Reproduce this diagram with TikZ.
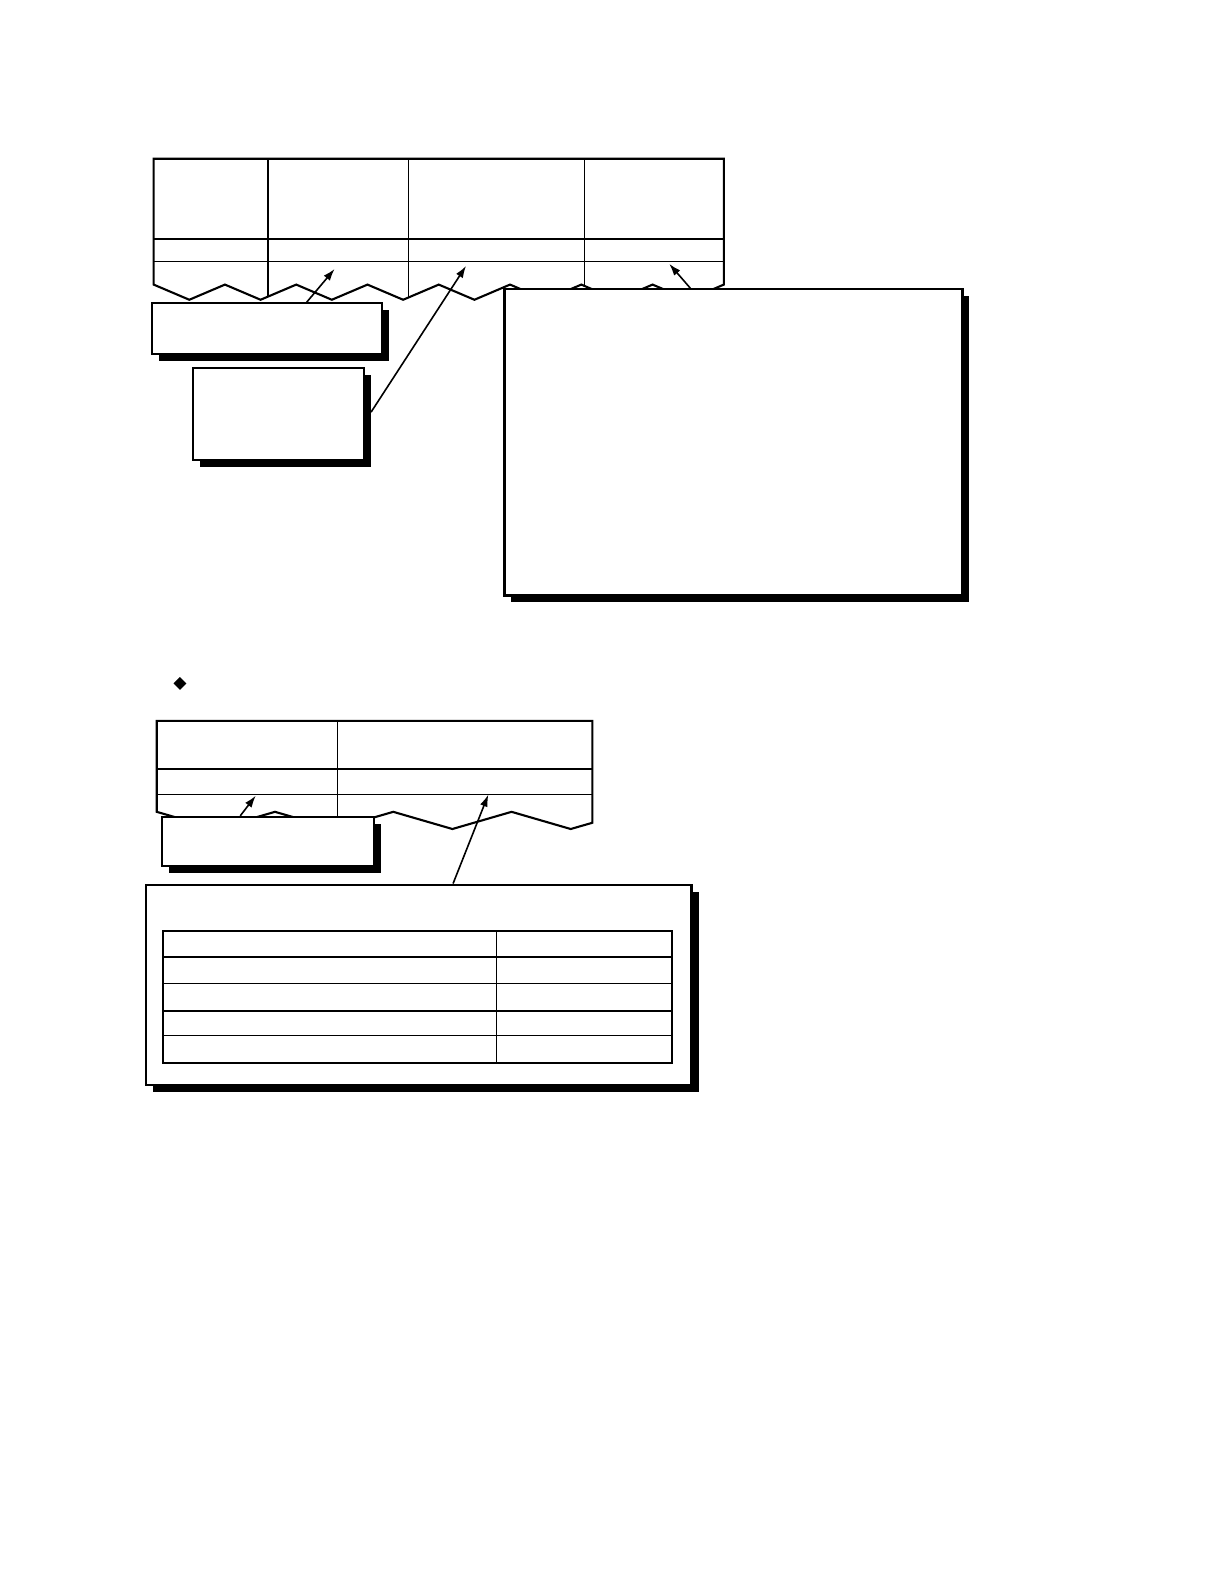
\documentclass[tikz,border=0pt]{standalone}
\usetikzlibrary{arrows.meta,shadows,shapes.geometric,fit,calc}
\begin{document}
\begin{tikzpicture}[x=1.011pt,y=-1.011pt,
  thickline/.style={line width=2.1pt},
  thinline/.style={line width=1.3pt},
  shbox/.style={draw, line width=2.1pt, fill=white, inner sep=0pt,
    general shadow={fill=black, shadow xshift=7pt, shadow yshift=-7pt}},
  arr/.style={line width=1.6pt, -{Latex[length=12pt,width=8pt]}},
  bullet/.style={diamond, fill=black, inner sep=0pt, minimum size=13pt}]
\fill[white] (0,0) rectangle (1210.7,1566.8);
\useasboundingbox (0,0) rectangle (1210.7,1566.8);

% ---------- top table ----------
\begin{scope}
  \clip (152,157) -- (716,157) -- (716,281.5) -- (680.75,296.5) -- (645.5,281.5)
    -- (610.25,296.5) -- (575,281.5) -- (539.75,296.5) -- (504.5,281.5)
    -- (469.25,296.5) -- (434,281.5) -- (398.75,296.5) -- (363.5,281.5)
    -- (328.25,296.5) -- (293,281.5) -- (257.75,296.5) -- (222.5,281.5)
    -- (187.25,296.5) -- (152,281.5) -- cycle;
  \draw[thinline] (265,150) -- (265,310) (404,150) -- (404,310) (578,150) -- (578,310);
  \draw[thickline] (140,236) -- (730,236);
  \draw[thinline] (140,259) -- (730,259);
\end{scope}
\draw[thickline, line join=miter] (152,281.5) -- (152,157) -- (716,157) -- (716,281.5)
    -- (680.75,296.5) -- (645.5,281.5) -- (610.25,296.5) -- (575,281.5)
    -- (539.75,296.5) -- (504.5,281.5) -- (469.25,296.5) -- (434,281.5)
    -- (398.75,296.5) -- (363.5,281.5) -- (328.25,296.5) -- (293,281.5)
    -- (257.75,296.5) -- (222.5,281.5) -- (187.25,296.5) -- cycle;

\coordinate (h1) at (331,266);
\coordinate (h2) at (461,263);
\coordinate (h3) at (662,261);

\node[shbox, fit={(150,300) (378,350)}] (b1) {};
\node[shbox, fit={(191,364) (360,455)}] (b2) {};
\node[shbox, fit={(499,286) (952,589)}] (b3) {};

\draw[arr] ($(b1.north west)!0.671!(b1.north east)$) -- (h1);
\draw[arr] ($(b2.north east)!0.48!(b2.south east) + (6,0)$) -- (h2);
\draw[arr] ($(b3.north west)!0.406!(b3.north east)$) -- (h3);

% ---------- bullet ----------
\node[bullet] (dia) at (178,676) {};

% ---------- bottom table ----------
\begin{scope}
  \clip (155,713) -- (586,713) -- (586,813.8) -- (564.5,820) -- (506,803)
    -- (447.5,820) -- (389,803) -- (330.5,820) -- (272,803) -- (213.5,820)
    -- (155,803) -- cycle;
  \draw[thinline] (334,700) -- (334,830);
  \draw[thickline] (140,761) -- (600,761);
  \draw[thinline] (140,786) -- (600,786);
\end{scope}
\draw[thickline, line join=miter] (155,803) -- (155,713) -- (586,713) -- (586,813.8)
    -- (564.5,820) -- (506,803) -- (447.5,820) -- (389,803) -- (330.5,820)
    -- (272,803) -- (213.5,820) -- cycle;

\coordinate (h4) at (253,787);
\coordinate (h5) at (483,786);

\node[shbox, fit={(160,808) (370,857)}] (b4) {};
\node[shbox, fit={(144,875) (684,1073)}] (b5) {};

% inner table
\draw[thickline] (161,921) rectangle (665,1051);
\draw[thinline] (491,921) -- (491,1051);
\draw[thickline] (161,947) -- (665,947);
\draw[thinline] (161,973) -- (665,973) (161,1000) -- (665,1000) (161,1024) -- (665,1024);

\draw[arr] ($(b4.north west)!0.371!(b4.north east)$) -- (h4);
\draw[arr] ($(b5.north west)!0.563!(b5.north east)$) -- (h5);
\end{tikzpicture}
\end{document}
